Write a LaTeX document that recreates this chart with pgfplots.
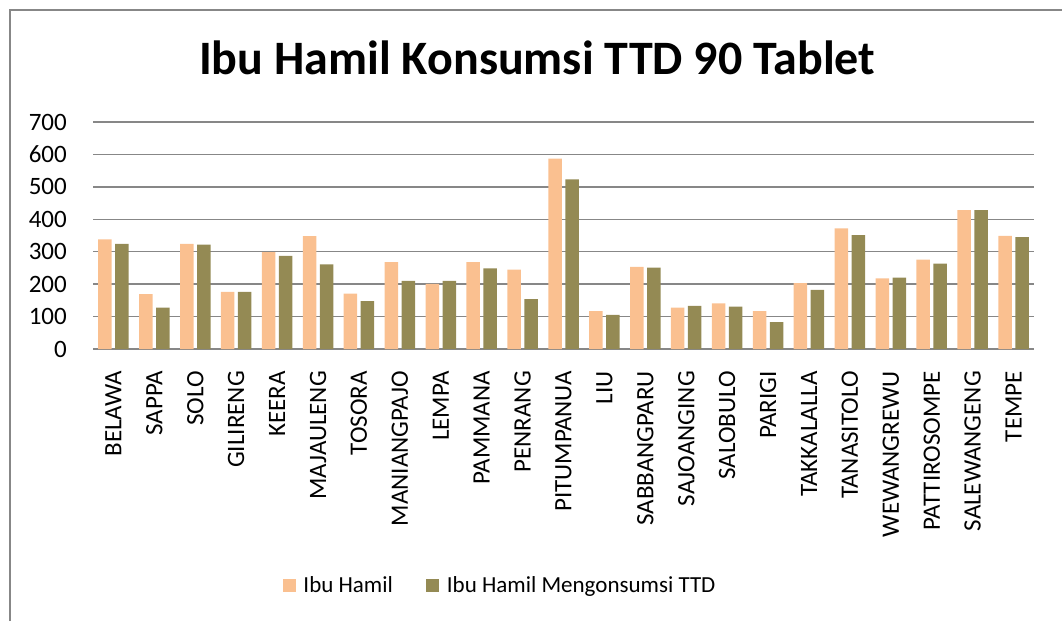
\documentclass[border=0pt]{standalone}
\usepackage{pgfplots}
\pgfplotsset{compat=1.18}
\usepackage{fontspec}
\setmainfont{Carlito}
\definecolor{orangeb}{HTML}{FAC090}
\definecolor{oliveb}{HTML}{948A54}
\definecolor{gridg}{HTML}{878787}
\pgfplotstableread{
x a b
0 338 324
1 169 128
2 324 322
3 176 176
4 299 287
5 348 261
6 171 148
7 268 210
8 201 210
9 268 249
10 245 154
11 587 523
12 117 105
13 253 251
14 128 133
15 141 131
16 117 83
17 203 182
18 372 351
19 218 220
20 276 263
21 428 428
22 349 345
}\datatable
\begin{document}
\begin{tikzpicture}
\path[use as bounding box] (0,0) rectangle (1062pt,-621pt);
\draw[gridg, line width=1.2pt] (10pt,-621pt) -- (10pt,-10pt) -- (1062pt,-10pt);
\begin{axis}[
  at={(93pt,-349pt)}, anchor=south west,
  scale only axis, width=941pt, height=227pt,
  ymin=0, ymax=700, xmin=-0.5, xmax=22.5,
  ybar=3.5pt, bar width=13.5pt,
  ytick={0,100,...,700},
  xtick={0,...,22},
  xticklabels={BELAWA,SAPPA,SOLO,GILIRENG,KEERA,MAJAULENG,TOSORA,MANIANGPAJO,LEMPA,PAMMANA,PENRANG,PITUMPANUA,LIU,SABBANGPARU,SAJOANGING,SALOBULO,PARIGI,TAKKALALLA,TANASITOLO,WEWANGREWU,PATTIROSOMPE,SALEWANGENG,TEMPE},
  axis x line*=bottom, axis y line*=left,
  y axis line style={draw=none},
  x axis line style={gridg, line width=1.5pt, -},
  ymajorgrids, grid style={gridg, line width=1.5pt},
  major tick length=0pt,
  /pgf/number format/assume math mode=true,
  tick label style={font=\fontsize{25}{30}\selectfont, text=black},
  yticklabel style={inner sep=0pt, xshift=-26pt},
  xticklabel style={yshift=-22pt, rotate=90, anchor=east, inner sep=0pt},
  title={Ibu Hamil Konsumsi TTD 90 Tablet},
  title style={at={(0.472,1)}, anchor=center, yshift=58pt, font=\fontsize{48}{56}\selectfont\bfseries},
  legend style={at={(0.4325,-1.04)}, anchor=center, draw=none, font=\fontsize{23}{27}\selectfont,
    legend columns=2, /tikz/every odd column/.append style={column sep=6pt},
    /tikz/every even column/.append style={column sep=31pt}},
  legend image code/.code={\fill[#1] (0pt,-6.5pt) rectangle (13pt,6.5pt);},
]
\addplot[fill=orangeb, draw=none] table[x=x,y=a]{\datatable};
\addplot[fill=oliveb, draw=none] table[x=x,y=b]{\datatable};
\legend{Ibu Hamil, Ibu Hamil Mengonsumsi TTD}
\end{axis}
\end{tikzpicture}
\end{document}
